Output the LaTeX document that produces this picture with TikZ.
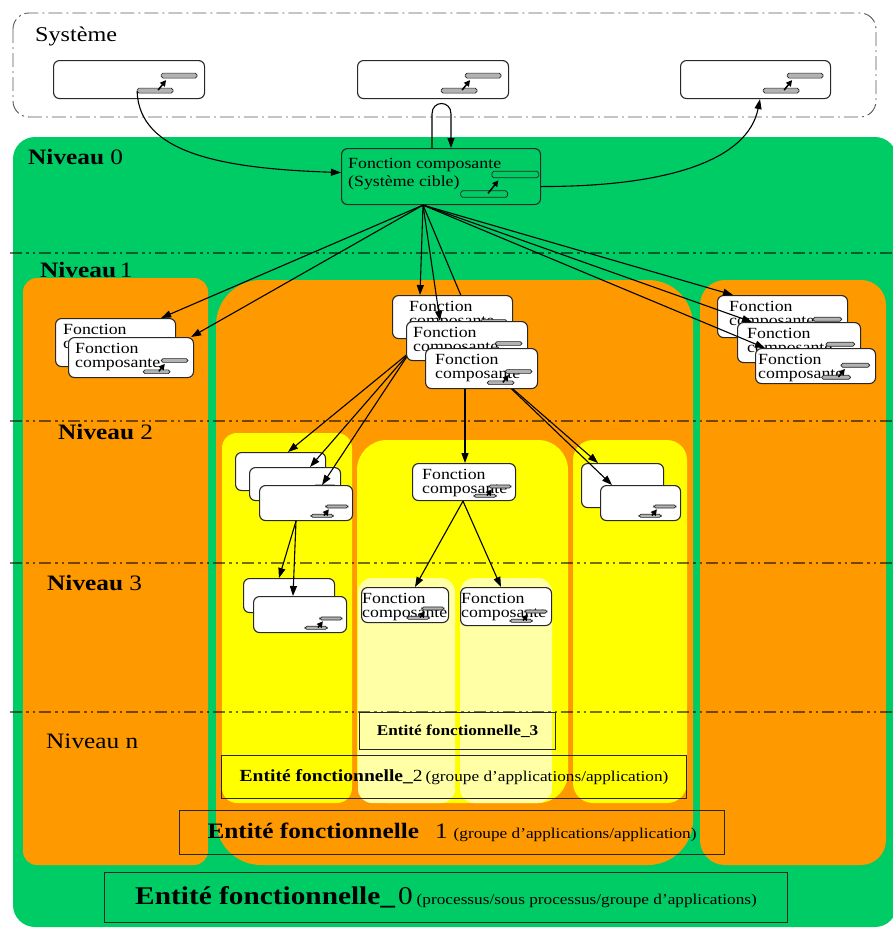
\documentclass[tikz,border=0pt]{standalone}
\usepackage{fontspec}
\setmainfont{Liberation Serif}[FakeStretch=1.15]
\usetikzlibrary{arrows.meta,calc}

\definecolor{grn}{RGB}{0,204,102}
\definecolor{org}{RGB}{255,153,0}
\definecolor{yel}{RGB}{255,255,0}
\definecolor{pale}{RGB}{255,255,165}
\definecolor{edge}{RGB}{40,40,40}

\tikzset{
  fnbox/.style={draw=edge, line width=1.1pt, rounded corners=6pt, fill=white,
    anchor=north west, inner sep=0pt},
  ftext/.style={anchor=north west, inner sep=0pt, align=left,
    font=\fontsize{15.5}{14.5}\selectfont},
  barstyle/.style={draw=black!85, line width=0.7pt, rounded corners=1.8pt, fill=gray!60},
  port/.pic={
    \draw[barstyle] (-44,-26) rectangle (-8,-21);
    \draw[barstyle] (-68,-11) rectangle (-32,-6);
    \draw[line width=1.5pt, -{Triangle[length=6pt,width=6pt]}] (-47,-9) -- (-39,-19);
  },
  conn/.style={draw=black, line width=1.1pt, -{Triangle[length=10pt,width=7pt]}},
  sysframe/.style={draw=black!65, line width=0.9pt, rounded corners=16pt,
    dash pattern=on 14pt off 4pt on 2pt off 4pt},
  levelline/.style={draw=black, draw opacity=0.55, line width=1.8pt,
    dash pattern=on 12pt off 4pt on 2.5pt off 4pt on 2.5pt off 4pt},
  niv/.style={anchor=base west, inner sep=0pt, font=\fontsize{22}{24}\selectfont},
  efbox/.style={draw=black!85, line width=1.1pt, anchor=north west, inner sep=0pt},
}

% component box: name, x, y, width, height, text, icon scale, text indent
\newcommand{\compbox}[8]{%
  \node[fnbox, minimum width=#4pt, minimum height=#5pt] (#1) at (#2,#3) {};
  \node[ftext, xshift=#8pt, yshift=-6pt] (#1-t) at (#1.north west) {#6};
  \pic[scale=#7] at (#1.south east) {port};
}

\begin{document}
\begin{tikzpicture}[x=1pt,y=-1pt]
\useasboundingbox (0,0) rectangle (893,929);

% ---- system frame ----
\draw[sysframe] (13,13) rectangle (876,117);
\node[anchor=base west, inner sep=0pt, font=\fontsize{21}{24}\selectfont] (sys-label) at (35,41) {Système};
\compbox{A}{53}{60}{151}{38}{}{1}{6}
\compbox{B}{357}{60}{151}{38}{}{1}{6}
\compbox{C}{680}{60}{150}{38}{}{1}{6}

% ---- nested functional entities ----
\fill[grn, rounded corners=22pt] (13,137) rectangle (897,927);
\fill[org, rounded corners=14pt] (23,278) rectangle (208,865);
\fill[org, rounded corners=45pt] (216,280) rectangle (693,865);
\fill[org, rounded corners=25pt] (700,280) rectangle (886,865);
\fill[yel, rounded corners=15pt] (222,433) rectangle (352,803);
\fill[yel, rounded corners=30pt] (357,440) rectangle (568,803);
\fill[yel, rounded corners=20pt] (573,440) rectangle (687,803);
\fill[pale, rounded corners=14pt] (358,578) rectangle (455,803);
\fill[pale, rounded corners=14pt] (460,578) rectangle (552,803);

% ---- level separators ----
\draw[levelline] (10,253) -- (893,253);
\draw[levelline] (10,421) -- (893,421);
\draw[levelline] (10,563) -- (893,563);
\draw[levelline] (10,712) -- (893,712);

\node[niv] (niv0) at (28,164) {\textbf{Niveau} 0};
\node[niv] (niv1) at (40,277) {\textbf{Niveau}\,1};
\node[niv] (niv2) at (58,439) {\textbf{Niveau} 2};
\node[niv] (niv3) at (47,590) {\textbf{Niveau} 3};
\node[niv] (nivn) at (46,748) {Niveau n};

% ---- entity captions ----
\node[efbox, minimum width=196pt, minimum height=37pt] (ef3) at (359,712)
  {\fontsize{15}{16}\selectfont\bfseries Entité fonctionnelle\_3};
\node[efbox, minimum width=465pt, minimum height=43pt] (ef2) at (221,755)
  {{\fontsize{17}{18}\selectfont\bfseries Entité fonctionnelle\_}{\fontsize{17}{18}\selectfont 2}\
   {\fontsize{15}{16}\selectfont(groupe d'applications/application)}};
\node[efbox, minimum width=545pt, minimum height=44pt] (ef1) at (179,810)
  {{\fontsize{22}{24}\selectfont\bfseries Entité fonctionnelle}\hspace{16pt}{\fontsize{22}{24}\selectfont 1}\hspace{6pt}{\fontsize{15}{16}\selectfont(groupe d'applications/application)}};
\node[efbox, minimum width=683pt, minimum height=50pt] (ef0) at (104,872)
  {{\fontsize{25.5}{28}\selectfont\bfseries Entité fonctionnelle\_}\hspace{3pt}{\fontsize{25.5}{28}\selectfont 0}\hspace{4pt}{\fontsize{15}{16}\selectfont(processus/sous processus/groupe d'applications)}};

% ---- level 0 ----
\node[fnbox, fill=grn, minimum width=199pt, minimum height=56pt] (fn0) at (341,148) {};
\node[ftext, font=\fontsize{15.5}{18}\selectfont, xshift=7pt, yshift=-10pt] (fn0-t) at (fn0.north west)
  {Fonction composante\\(Système cible)};
\pic[scale=1.3, barstyle/.append style={fill=grn}] at ($(fn0.south east)+(8,0)$) {port};

\draw[conn] ($(A.south east)+(-68,-8)$) .. controls +(2,62) and +(-120,-4) .. ($(fn0.west)+(0,-4)$);
\draw[conn] ($(fn0.north west)+(91,0)$) -- ++(0,-34) .. controls +(0,-14) and +(0,-14) .. ++(19,0)
  -- ($(fn0.north west)+(110,0)$);
\draw[conn] ($(fn0.east)+(0,10)$) .. controls +(130,0) and +(-12,60) .. ($(C.south west)+(80,0)$);

\coordinate (fan0) at ($(fn0.south west)+(82,0)$);

% ---- levels 2 and 3 ----
\compbox{L2a}{235}{452}{90}{38}{}{0.62}{0}
\compbox{L2b}{249}{467}{91}{33}{}{0.62}{0}
\compbox{L2c}{259}{485}{93}{35}{}{0.62}{0}
\compbox{C2}{412}{463}{103}{37}{Fonction\\composante}{0.62}{10}
\compbox{R2a}{581}{463}{82}{44}{}{0.62}{0}
\compbox{R2b}{600}{485}{80}{35}{}{0.62}{0}
\compbox{L3a}{243}{578}{91}{34}{}{0.62}{0}
\compbox{L3b}{253}{596}{93}{36}{}{0.62}{0}
\compbox{P1}{361}{587}{87}{35}{Fonction\\composante}{0.62}{1}
\compbox{P2}{460}{587}{91}{38}{Fonction\\composante}{0.62}{1}

\coordinate (cs3top) at (483,348);
\coordinate (cs3bot) at (465,388);
\coordinate (fan1) at (410,352);
\coordinate (fan2) at (498,376);

\draw[conn] (fan0) -- (cs3top);
\draw[conn] (cs3bot) -- ($(C2.north west)+(53,0)$);
\draw[conn] (fan1) -- ($(L2a.north west)+(53,0)$);
\draw[conn] (fan1) -- ($(L2b.north west)+(61,0)$);
\draw[conn] (fan1) -- ($(L2c.north west)+(63,0)$);
\draw[conn] (fan2) -- ($(R2a.north west)+(17,0)$);
\draw[conn] (fan2) -- ($(R2b.north west)+(12,0)$);
\draw[conn] ($(L2c.south west)+(37,0)$) -- ($(L3a.north west)+(36,0)$);
\draw[conn] ($(L2c.south west)+(37,0)$) -- ($(L3b.north west)+(40,0)$);
\draw[conn] ($(C2.south west)+(51,0)$) -- ($(P1.north west)+(54,0)$);
\draw[conn] ($(C2.south west)+(51,0)$) -- ($(P2.north west)+(41,0)$);

% ---- level 1 ----
\compbox{LS1}{55}{318}{120}{48}{Fonction\\composante}{0.75}{8}
\compbox{LS2}{68}{337}{125}{40}{Fonction\\composante}{0.75}{7}
\compbox{CS1}{392}{295}{120}{43}{Fonction\\composante}{0.75}{17}
\compbox{CS2}{406}{321}{121}{39}{Fonction\\composante}{0.75}{7}
\compbox{CS3}{425}{348}{112}{40}{Fonction\\composante}{0.75}{10}
\compbox{RS1}{717}{295}{130}{42}{Fonction\\composante}{0.8}{12}
\compbox{RS2}{737}{322}{123}{40}{Fonction\\composante}{0.8}{10}
\compbox{RS3}{755}{348}{120}{35}{Fonction\\composante}{0.8}{3}

\draw[conn] (fan0) -- ($(LS1.north east)+(-15,0)$);
\draw[conn] (fan0) -- ($(LS2.north east)+(-3,0)$);
\draw[conn] (fan0) -- ($(CS1.north west)+(28,0)$);
\draw[conn] (fan0) -- ($(CS2.north west)+(34,0)$);
\draw[conn] (fan0) -- ($(RS1.north west)+(16,0)$);
\draw[conn] (fan0) -- ($(RS2.north west)+(15,0)$);
\draw[conn] (fan0) -- ($(RS3.north west)+(10,0)$);

\end{tikzpicture}
\end{document}
